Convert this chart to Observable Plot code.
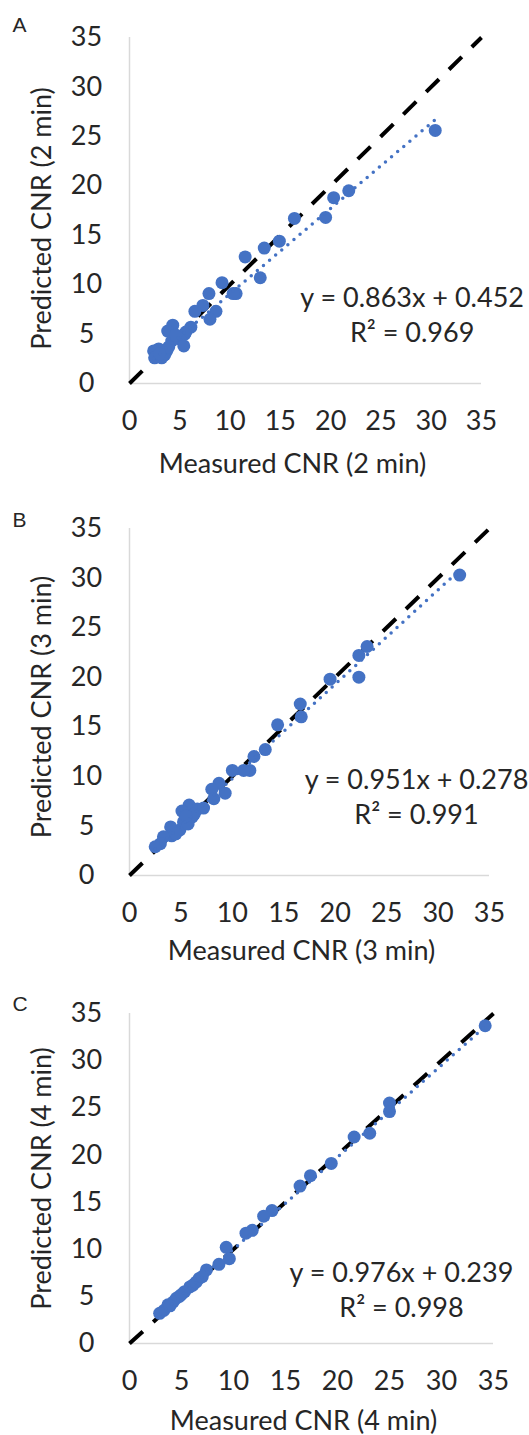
<!DOCTYPE html>
<html>
<head>
<meta charset="utf-8">
<script src="https://cdn.jsdelivr.net/npm/d3@7"></script>
<script src="https://cdn.jsdelivr.net/npm/@observablehq/plot@0.6"></script>
<style>
  body { margin: 0; background: #fff; }
  #chart { width: 529px; height: 1435px; overflow: hidden; }
  #chart svg { display: block; }
</style>
</head>
<body>
<div id="chart"></div>
<script>
// ---- data ----
const panelLetters = ["A", "B", "C"];
const durations = ["2 min", "3 min", "4 min"];
const xTicks = [0, 5, 10, 15, 20, 25, 30, 35];
const yTicks = [0, 5, 10, 15, 20, 25, 30, 35];

const measuredA  = [30.4, 21.8, 20.3, 19.5, 16.4, 14.9, 13.4, 13.0, 11.5, 10.6, 10.3, 9.2, 7.9, 8.6, 8.0, 7.3, 6.5, 6.1, 5.6, 5.5, 5.0, 4.3, 3.8, 4.2, 3.7, 3.5, 2.9, 2.4, 2.5, 3.2, 5.4, 3.9, 4.6, 3.0];
const predictedA = [25.6, 19.5, 18.8, 16.8, 16.7, 14.4, 13.7, 10.7, 12.8, 9.1, 9.1, 10.2, 9.1, 7.3, 6.5, 7.9, 7.3, 5.7, 5.2, 5.0, 4.5, 5.9, 5.3, 4.3, 3.3, 2.9, 3.5, 3.3, 2.6, 2.6, 3.8, 3.7, 4.9, 3.0];

const measuredB  = [32.1, 23.1, 22.3, 22.3, 19.5, 16.6, 16.7, 14.4, 13.2, 12.1, 11.7, 11.1, 10.0, 8.7, 8.0, 9.3, 8.2, 5.8, 6.6, 5.1, 6.1, 5.25, 4.9, 4.0, 4.1, 3.3, 3.0, 2.5, 5.7, 4.5, 7.2, 6.3, 5.5];
const predictedB = [30.3, 23.1, 22.2, 20.0, 19.8, 17.3, 16.0, 15.2, 12.7, 12.0, 10.6, 10.6, 10.6, 9.3, 8.7, 8.3, 7.75, 7.1, 6.7, 6.5, 5.9, 5.4, 4.6, 4.9, 4.0, 3.9, 3.2, 2.9, 5.2, 4.2, 6.8, 6.2, 6.0];

const measuredC  = [34.2, 25.0, 25.0, 23.1, 21.6, 19.4, 17.4, 16.4, 13.7, 12.9, 11.8, 11.2, 9.3, 9.6, 8.6, 7.4, 6.7, 6.1, 5.8, 5.3, 4.8, 4.5, 4.2, 3.7, 3.3, 2.9, 3.9, 5.0, 6.4, 7.0];
const predictedC = [33.7, 25.5, 24.6, 22.3, 21.9, 19.1, 17.8, 16.7, 14.1, 13.5, 12.0, 11.7, 10.2, 9.0, 8.4, 7.8, 6.9, 6.2, 6.0, 5.5, 5.0, 4.8, 4.4, 4.1, 3.5, 3.2, 4.0, 5.2, 6.5, 7.1];

const slopes = [0.863, 0.951, 0.976];
const intercepts = [0.452, 0.278, 0.239];
const rSquared = ["0.969", "0.991", "0.998"];

const measured = [measuredA, measuredB, measuredC];
const predicted = [predictedA, predictedB, predictedC];

// ---- layout / style ----
const FONT = "Lato, 'Open Sans', sans-serif";
const TICK_SIZE = 27;
const TITLE_SIZE = 27;
const TEXT_COLOR = "#262626";
const BLUE = "#4472C4";

const layout = [
  {height: 490, mt: 37, mb: 107, mr: 48, xTitleDx: -13, xTitleDy: 81, yTitleDy: 8, letterDy: -12, eqX: 28.1, eqY: 7.1},
  {height: 475, mt: 38, mb: 90,  mr: 40, xTitleDx: -8,  xTitleDy: 76, yTitleDy: 5, letterDy: -8,  eqX: 27.9, eqY: 8.1},
  {height: 470, mt: 48, mb: 92,  mr: 36, xTitleDx: -8,  xTitleDy: 78, yTitleDy: 0, letterDy: -9,  eqX: 26.15, eqY: 5.9}
];

const chart = document.getElementById("chart");

panelLetters.forEach((letter, i) => {
  const L = layout[i];
  const pts = d3.zip(measured[i], predicted[i]);
  const ext = d3.extent(measured[i]);
  const diag = [xTicks[0], xTicks[xTicks.length - 1]];
  const eqText = `y = ${slopes[i].toFixed(3)}x + ${intercepts[i].toFixed(3)}\nR² = ${rSquared[i]}`;

  const plot = Plot.plot({
    width: 529,
    height: L.height,
    marginLeft: 129,
    marginRight: L.mr,
    marginTop: L.mt,
    marginBottom: L.mb,
    style: {fontFamily: FONT, fontSize: TICK_SIZE + "px", color: TEXT_COLOR, background: "#fff", overflow: "visible"},
    x: {domain: diag},
    y: {domain: [yTicks[0], yTicks[yTicks.length - 1]]},
    marks: [
      Plot.ruleX([xTicks[0]], {stroke: "#d9d9d9", strokeWidth: 1.5}),
      Plot.ruleY([yTicks[0]], {stroke: "#d9d9d9", strokeWidth: 1.5}),
      Plot.axisX({ticks: xTicks, tickSize: 0, tickPadding: 38, lineAnchor: "middle", label: null, fill: TEXT_COLOR, fontSize: TICK_SIZE, tickFormat: d => String(d)}),
      Plot.axisY({ticks: yTicks, tickSize: 0, tickPadding: 43, textAnchor: "middle", label: null, fill: TEXT_COLOR, fontSize: TICK_SIZE, tickFormat: d => String(d)}),
      Plot.line(diag, {x: d => d, y: d => d, stroke: "#000", strokeWidth: 4, strokeDasharray: "18 14", strokeLinecap: "butt"}),
      Plot.dot(pts, {x: d => d[0], y: d => d[1], r: 6.5, fill: BLUE, stroke: "none"}),
      Plot.line(ext, {x: d => d, y: d => slopes[i] * d + intercepts[i], stroke: BLUE, strokeWidth: 3.5, strokeDasharray: "0 8", strokeLinecap: "round"}),
      Plot.text([eqText], {x: () => L.eqX, y: () => L.eqY, textAnchor: "middle", lineAnchor: "middle", lineHeight: 35 / TITLE_SIZE, fontSize: TITLE_SIZE, fill: TEXT_COLOR}),
      Plot.text([`Measured CNR (${durations[i]})`], {frameAnchor: "bottom", dx: L.xTitleDx, dy: L.xTitleDy, textAnchor: "middle", lineAnchor: "middle", fontSize: TITLE_SIZE, fill: TEXT_COLOR}),
      Plot.text([`Predicted CNR (${durations[i]})`], {frameAnchor: "left", rotate: -90, dx: -87, dy: L.yTitleDy, textAnchor: "middle", lineAnchor: "middle", fontSize: TITLE_SIZE, fill: TEXT_COLOR}),
      Plot.text([letter], {frameAnchor: "top-left", dx: 12 - 129, dy: L.letterDy, textAnchor: "start", lineAnchor: "middle", fontSize: 21, fontFamily: "'Liberation Sans', Arial, sans-serif", fill: TEXT_COLOR})
    ]
  });
  chart.appendChild(plot);
});
</script>
</body>
</html>
